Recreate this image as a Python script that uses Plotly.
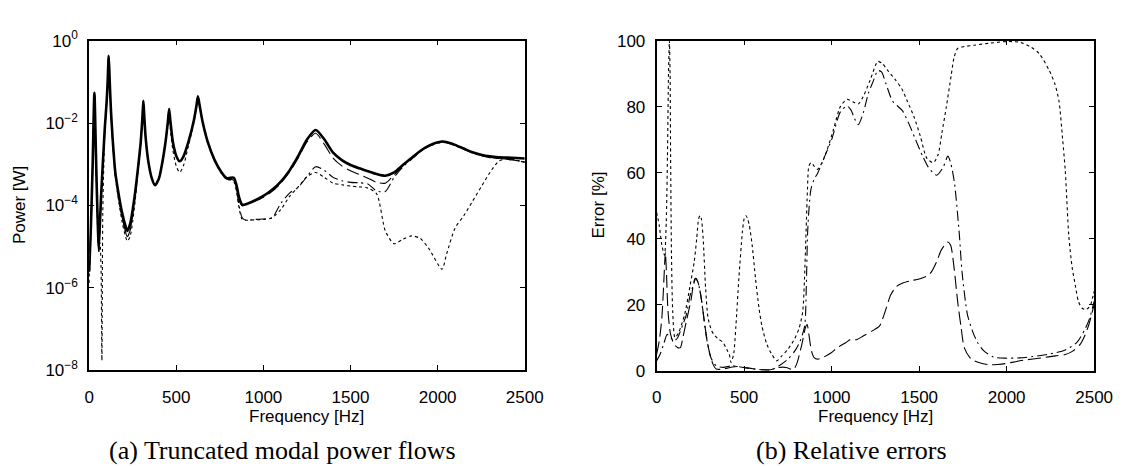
import plotly.graph_objects as go

# ---------------- Left panel: truncated modal power flows (log10 of power in W) ----------------
freq_power = [0, 10, 20, 30, 38, 45, 55, 62, 68, 73, 78, 84, 90, 100, 106, 112, 118, 125, 135, 150,
              170, 190, 205, 219, 235, 250, 265, 280, 295, 305, 311, 317, 325, 340, 360, 378, 400, 420,
              440, 452, 459, 466, 480, 500, 519, 540, 570, 600, 615, 624, 633, 650, 680, 720, 760, 790,
              810, 830, 845, 860, 878, 900, 950, 1000, 1050, 1100, 1150, 1200, 1250, 1300, 1350, 1400,
              1450, 1500, 1550, 1600, 1650, 1700, 1750, 1800, 1850, 1900, 1950, 2025, 2050, 2100, 2150,
              2200, 2250, 2300, 2350, 2400, 2450, 2500]

log_power_exact = [-5.6, -4.5, -3.0, -1.27, -2.6, -3.8, -5.0, -4.4, -3.8, -3.4, -3.0, -2.55, -2.1, -1.5, -1.0, -0.37, -1.0, -1.7, -2.4, -3.2,
                   -3.75, -4.2, -4.45, -4.62, -4.45, -4.1, -3.65, -3.1, -2.5, -1.9, -1.46, -1.9, -2.4, -2.95, -3.35, -3.51, -3.35, -2.95,
                   -2.4, -1.95, -1.66, -1.95, -2.45, -2.8, -2.93, -2.82, -2.45, -1.95, -1.6, -1.35, -1.55, -1.95, -2.45, -2.9, -3.2, -3.34,
                   -3.33, -3.33, -3.5, -3.8, -3.98, -3.97, -3.88, -3.77, -3.62, -3.42, -3.15, -2.8, -2.4, -2.17, -2.4, -2.72,
                   -2.9, -3.02, -3.1, -3.17, -3.24, -3.28, -3.2, -3.02, -2.85, -2.68, -2.55, -2.45, -2.46, -2.53, -2.62,
                   -2.71, -2.77, -2.81, -2.83, -2.84, -2.85, -2.86]

log_power_dash = [-5.62, -4.52, -3.03, -1.28, -2.65, -3.9, -5.18, -4.5, -3.88, -3.46, -3.04, -2.58, -2.13, -1.53, -1.03, -0.38, -1.02, -1.73, -2.43, -3.25,
                  -3.82, -4.3, -4.58, -4.76, -4.6, -4.22, -3.72, -3.14, -2.52, -1.91, -1.46, -1.9, -2.4, -2.95, -3.35, -3.51, -3.35, -2.95,
                  -2.4, -1.95, -1.66, -1.95, -2.45, -2.8, -2.93, -2.82, -2.45, -1.95, -1.6, -1.35, -1.55, -1.95, -2.45, -2.9, -3.21, -3.36,
                  -3.36, -3.38, -3.56, -3.87, -4.01, -3.98, -3.9, -3.8, -3.66, -3.46, -3.19, -2.85, -2.46, -2.25, -2.52, -2.85,
                  -3.04, -3.16, -3.25, -3.34, -3.44, -3.46, -3.26, -3.04, -2.86, -2.69, -2.55, -2.46, -2.47, -2.54, -2.63,
                  -2.72, -2.79, -2.83, -2.86, -2.88, -2.91, -2.95]

log_power_dashdot = [-5.61, -4.52, -3.03, -1.3, -2.63, -3.84, -5.05, -4.44, -3.84, -3.44, -3.04, -2.6, -2.15, -1.55, -1.04, -0.38, -1.02, -1.74, -2.45, -3.27,
                     -3.84, -4.31, -4.58, -4.76, -4.6, -4.2, -3.72, -3.15, -2.53, -1.91, -1.46, -1.9, -2.4, -2.95, -3.35, -3.51, -3.36, -2.96,
                     -2.4, -1.95, -1.66, -1.95, -2.45, -2.8, -2.93, -2.82, -2.45, -1.95, -1.6, -1.35, -1.55, -1.95, -2.45, -2.9, -3.21, -3.36,
                     -3.37, -3.39, -3.6, -4.0, -4.3, -4.36, -4.34, -4.33, -4.3, -3.95, -3.7, -3.56, -3.3, -3.06, -3.15, -3.32,
                     -3.4, -3.44, -3.45, -3.48, -3.65, -3.66, -3.32, -3.07, -2.88, -2.7, -2.57, -2.47, -2.48, -2.55, -2.64,
                     -2.73, -2.79, -2.84, -2.86, -2.88, -2.91, -2.95]

log_power_dot = [-5.88, -4.7, -3.15, -1.35, -2.75, -4.1, -5.1, -4.9, -5.5, -7.76, -4.2, -3.0, -2.17, -1.55, -1.03, -0.38, -1.03, -1.75, -2.48, -3.3,
                 -3.92, -4.42, -4.7, -4.87, -4.75, -4.38, -3.85, -3.17, -2.53, -1.91, -1.46, -1.9, -2.41, -2.99, -3.37, -3.52, -3.36, -2.96,
                 -2.43, -2.02, -1.8, -2.15, -2.65, -3.05, -3.2, -3.05, -2.55, -2.02, -1.63, -1.36, -1.57, -1.97, -2.47, -2.92, -3.23, -3.38,
                 -3.38, -3.42, -3.65, -4.05, -4.34, -4.36, -4.35, -4.34, -4.3, -4.1, -3.78, -3.55, -3.3, -3.2, -3.32, -3.46,
                 -3.5, -3.53, -3.55, -3.58, -3.72, -4.62, -4.93, -4.82, -4.74, -4.8, -5.05, -5.55, -5.2, -4.55, -4.25,
                 -3.9, -3.55, -3.2, -2.93, -2.86, -2.9, -2.95]

# ---------------- Right panel: relative errors [%] ----------------
freq_err_dot = [0, 15, 30, 45, 55, 62, 68, 73, 77, 80, 85, 92, 105, 126, 160, 192, 215, 229, 240, 248, 256, 266, 280, 294,
                315, 332, 355, 378, 400, 415, 425, 440, 453, 470, 490, 500, 510, 520, 530, 546, 565, 585, 602, 630, 658,
                686, 714, 750, 789, 815, 835, 845, 854, 862, 870, 882, 900, 919, 945, 975, 1010, 1050, 1087, 1120, 1152,
                1180, 1220, 1264, 1290, 1320, 1366, 1400, 1432, 1470, 1506, 1544, 1581, 1608, 1630, 1655, 1683, 1700,
                1720, 1760, 1814, 1900, 2000, 2075, 2140, 2187, 2243, 2275, 2299, 2320, 2335, 2355, 2375, 2392, 2410,
                2430, 2450, 2467, 2480, 2494, 2500]
err_dot = [48, 44, 38, 35, 45, 65, 90, 100, 90, 65, 35, 18, 10, 11.6, 17, 26, 33, 40, 46, 47, 46, 40, 25, 16,
           12, 10.7, 9.5, 8.7, 6.5, 5, 2.5, 5, 13.5, 28, 42, 46, 47, 46, 44, 38, 28, 19, 13.5, 8, 5,
           3, 4.4, 6.5, 9.7, 13, 18, 28, 42, 55, 62, 63, 62, 61, 63, 67, 73, 80, 82.2, 81.5, 80.8,
           83, 88, 93.7, 93, 91, 88, 85.5, 81.7, 77, 71.2, 64.4, 63, 65.4, 72, 79.8, 89.4, 95,
           97.6, 98.2, 98.6, 99.2, 99.7, 99.5, 98, 96, 91, 87, 81.7, 70, 60.6, 41, 31, 26, 21,
           19, 18.5, 19, 20, 22.7, 24]

freq_err_dash = [0, 15, 30, 42, 50, 56, 65, 80, 100, 120, 136, 150, 170, 195, 220, 235, 255, 276, 300, 322, 341, 380,
                 420, 460, 500, 550, 600, 650, 700, 740, 780, 800, 830, 850, 860, 870, 885, 900, 920, 950, 1000, 1031,
                 1080, 1110, 1142, 1180, 1230, 1273, 1300, 1338, 1370, 1404, 1450, 1500, 1550, 1571, 1600, 1627, 1664,
                 1680, 1700, 1720, 1740, 1758, 1790, 1814, 1860, 1907, 1950, 2000, 2037, 2100, 2200, 2280, 2335, 2380,
                 2420, 2447, 2470, 2494, 2500]
err_dash = [5, 9, 16, 28, 36, 30, 18, 11, 8, 7, 7, 10, 15, 21, 28, 27, 22, 13.5, 6, 2, 0.5, 0.5,
            1.0, 1.3, 1.0, 0.6, 0.3, 0.3, 1.0, 1.0, 0.3, 2, 8, 13, 14, 11, 6, 4, 3.5, 4, 5.5, 6.9,
            8.5, 9.5, 9.4, 10.5, 12, 13.5, 17, 23, 25.5, 26.5, 27.2, 27.8, 28.8, 30, 33, 36.6, 39,
            38, 31, 21, 13, 7, 4, 3, 2.2, 1.8, 1.9, 2.2, 2.6, 3.2, 3.9, 4.5, 4.9, 6,
            8, 10.7, 14, 18.8, 20]

freq_err_dashdot = [0, 20, 40, 60, 80, 100, 120, 150, 170, 192, 210, 225, 245, 265, 285, 310, 340, 380, 430, 470, 520,
                    560, 600, 656, 700, 750, 790, 820, 846, 855, 863, 872, 882, 900, 919, 956, 1000, 1050, 1087, 1110,
                    1130, 1152, 1180, 1210, 1236, 1264, 1285, 1310, 1348, 1404, 1440, 1478, 1520, 1553, 1600, 1637, 1664,
                    1680, 1702, 1730, 1745, 1776, 1805, 1832, 1870, 1926, 2000, 2075, 2150, 2250, 2335, 2400, 2447, 2475,
                    2494, 2500]
err_dashdot = [3, 5, 8, 11, 10, 9, 10, 14, 17, 23, 26, 28, 25, 18, 10, 4, 1.5, 1.0, 1.5, 1.2, 0.8,
               0.5, 0.3, 0.3, 1.5, 3.5, 6, 9, 13.5, 25, 42, 50, 55, 58, 59.7, 64.4, 70, 78.4, 80.2, 79,
               76.5, 74.5, 78, 84, 87.5, 90.9, 90.5, 87, 81.7, 78.8, 75, 70.2, 65, 61.6, 59.2, 61.6, 65,
               63, 56.8, 41, 30, 17, 12, 8.7, 6, 4.1, 3.8, 3.9, 4.3, 5.1, 6.3, 8.5, 12.5, 16,
               19.8, 21]

x_ticks = [0, 500, 1000, 1500, 2000, 2500]
power_tick_exponents = [-8, -6, -4, -2, 0]
err_ticks = [0, 20, 40, 60, 80, 100]

# ---------------- Figure ----------------
W, H = 1134, 466
def px(x):
    return x / W
def py(y):
    return 1 - y / H

BLACK = "#000000"
DOT = "3px,3px"
LDASH = "13px,5px"
DASHDOT = "10px,4px,2px,4px"

fig = go.Figure()

def tolin(vals):
    return [10 ** v for v in vals]

left_traces = [
    (log_power_dot, DOT, 1.1),
    (log_power_dashdot, DASHDOT, 1.1),
    (log_power_dash, LDASH, 1.1),
    (log_power_exact, "solid", 2.6),
]
for vals, dash, w in left_traces:
    fig.add_trace(go.Scatter(x=freq_power, y=tolin(vals), mode="lines",
                             line=dict(color=BLACK, width=w, dash=dash, shape="spline", smoothing=0.7),
                             xaxis="x", yaxis="y", showlegend=False, hoverinfo="skip"))

right_traces = [
    (freq_err_dot, err_dot, DOT),
    (freq_err_dashdot, err_dashdot, DASHDOT),
    (freq_err_dash, err_dash, LDASH),
]
for fx, vals, dash in right_traces:
    fig.add_trace(go.Scatter(x=fx, y=vals, mode="lines",
                             line=dict(color=BLACK, width=1.1, dash=dash, shape="spline", smoothing=0.7),
                             xaxis="x2", yaxis="y2", showlegend=False, hoverinfo="skip"))

tick_font = dict(family="Liberation Sans, Arial, sans-serif", size=17, color=BLACK)
common_axis = dict(showline=True, linecolor=BLACK, linewidth=1.8, mirror="allticks",
                   ticks="inside", ticklen=5, tickwidth=1, tickcolor=BLACK,
                   showgrid=False, zeroline=False, tickfont=tick_font)

fig.update_layout(
    width=W, height=H,
    margin=dict(l=0, r=0, t=0, b=0),
    paper_bgcolor="white", plot_bgcolor="white",
    xaxis=dict(domain=[px(86), px(531)], range=[0, 2500], tickvals=x_ticks,
               ticktext=[str(v) for v in x_ticks], anchor="y", ticklabelstandoff=10, **common_axis),
    yaxis=dict(domain=[py(376), py(30)], type="log", range=[-8, 0],
               tickvals=[10 ** e for e in power_tick_exponents],
               ticktext=["10<sup>−%d</sup>" % -e if e < 0 else "10<sup>0</sup>" for e in power_tick_exponents],
               anchor="x", ticklabelstandoff=6, **common_axis),
    xaxis2=dict(domain=[px(665.7), px(1112.7)], range=[0, 2500], tickvals=x_ticks,
                ticktext=[str(v) for v in x_ticks], anchor="y2", ticklabelstandoff=10, **common_axis),
    yaxis2=dict(domain=[py(376.5), py(30)], range=[0, 100], tickvals=err_ticks,
                ticktext=[str(v) for v in err_ticks], anchor="x2", ticklabelstandoff=6, **common_axis),
)

label_font = dict(family="Liberation Sans, Arial, sans-serif", size=17, color=BLACK)
caption_font = dict(family="Liberation Serif, Times New Roman, serif", size=26, color=BLACK)
annots = [
    dict(text="Frequency [Hz]", x=px(308), y=py(425), font=label_font),
    dict(text="Frequency [Hz]", x=px(889), y=py(425), font=label_font),
    dict(text="Power [W]", x=px(15), y=py(203), font=label_font, textangle=-90),
    dict(text="Error [%]", x=px(606), y=py(203), font=label_font, textangle=-90),
    dict(text="(a) Truncated modal power flows", x=px(283), y=py(460), font=caption_font),
    dict(text="(b) Relative errors", x=px(865), y=py(460), font=caption_font),
]
for a in annots:
    fig.add_annotation(xref="paper", yref="paper", showarrow=False,
                       xanchor="center", yanchor="middle", **a)

fig.write_html("out.html")
